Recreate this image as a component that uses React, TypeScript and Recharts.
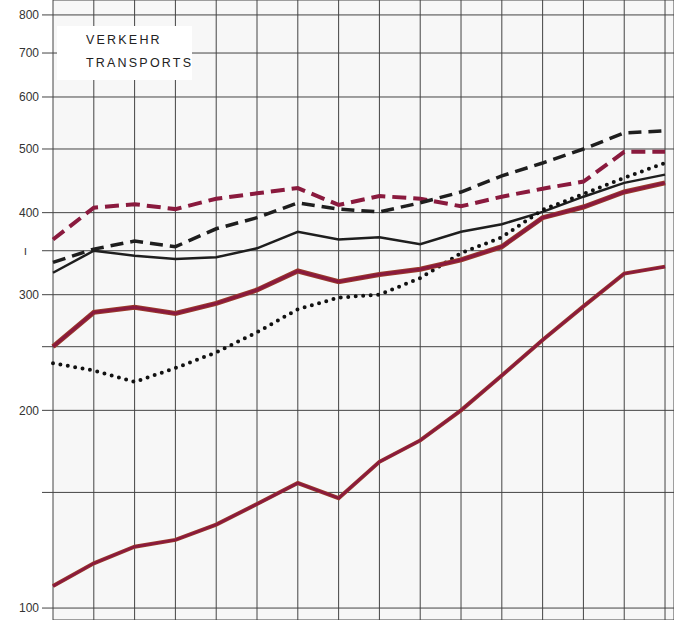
import React from "react"
import { LineChart, Line, XAxis, YAxis, CartesianGrid } from "recharts"

// index values, one point per year column (16 columns)
const years = [0, 1, 2, 3, 4, 5, 6, 7, 8, 9, 10, 11, 12, 13, 14, 15]
const redDashed = [364, 407, 412, 405, 420, 428, 436, 411, 424, 420, 409, 423, 435, 446, 495, 495]
const blackDashed = [336, 352, 362, 355, 378, 393, 414, 405, 401, 414, 430, 455, 476, 500, 529, 533]
const blackSolid = [324, 350, 344, 340, 342, 353, 374, 364, 367, 358, 374, 384, 401, 423, 444, 457]
const redThick = [250, 282, 287, 281, 291, 305, 326, 314, 322, 328, 339, 355, 393, 408, 430, 444]
const blackDotted = [236, 230, 221, 232, 245, 263, 285, 297, 300, 318, 347, 367, 404, 427, 452, 476]
const redLower = [108, 117, 124, 127, 134, 144, 155, 147, 167, 180, 200, 226, 256, 288, 323, 331]

const yTicks = [100, 150, 200, 250, 300, 350, 400, 500, 600, 700, 800]
const yLabels: Record<number, string> = {
  100: "100",
  200: "200",
  300: "300",
  350: "ı",
  400: "400",
  500: "500",
  600: "600",
  700: "700",
  800: "800",
}

const data = years.map((x, i) => ({
  x,
  redDashed: redDashed[i],
  blackDashed: blackDashed[i],
  blackSolid: blackSolid[i],
  redThick: redThick[i],
  blackDotted: blackDotted[i],
  redLower: redLower[i],
}))

const RED = "#8a1a3e"

// the 350 mark is only a stub in the original, sitting further left
const YTick = (props: any) => {
  const { x, y, payload } = props
  const label = yLabels[payload.value] ?? ""
  const shift = payload.value === 350 ? -12 : 0
  return (
    <text x={x + shift} y={y} dy="0.355em" textAnchor="end" fill="#333" fontSize={12} fontFamily="Liberation Sans, Arial, sans-serif">
      {label}
    </text>
  )
}

export default function App() {
  return (
    <div style={{ position: "relative", width: 674, height: 620, background: "#fff" }}>
      <style>{`body{margin:0}`}</style>
      <LineChart width={674} height={620} data={data} margin={{ top: 0, right: 0, bottom: 0, left: 0 }}>
        <CartesianGrid stroke="#444" strokeWidth={1} fill="#f7f7f7" />
        <XAxis dataKey="x" type="number" domain={[0, 15.22]} ticks={years} hide />
        <YAxis
          type="number"
          scale="log"
          domain={[95.9, 843]}
          allowDataOverflow
          ticks={yTicks}
          interval={0}
          width={53}
          axisLine={false}
          tickSize={11}
          tickMargin={3}
          tickLine={{ stroke: "#444" }}
          tick={YTick}
        />
        <Line dataKey="redDashed" stroke={RED} strokeWidth={4} strokeDasharray="14 7" dot={false} isAnimationActive={false} />
        <Line dataKey="blackDashed" stroke="#1e1e1e" strokeWidth={3.5} strokeDasharray="13 7" dot={false} isAnimationActive={false} />
        <Line dataKey="blackSolid" stroke="#1e1e1e" strokeWidth={2.5} dot={false} isAnimationActive={false} />
        <Line dataKey="blackDotted" stroke="#111" strokeWidth={4} strokeDasharray="0 7.5" strokeLinecap="round" dot={false} isAnimationActive={false} />
        <Line dataKey="redThick" stroke="#9a3a2a" strokeWidth={5} dot={false} isAnimationActive={false} />
        <Line dataKey="redThick" stroke={RED} strokeWidth={3} dot={false} isAnimationActive={false} />
        <Line dataKey="redLower" stroke="#9a3a2a" strokeWidth={4} dot={false} isAnimationActive={false} />
        <Line dataKey="redLower" stroke={RED} strokeWidth={2.5} dot={false} isAnimationActive={false} />
      </LineChart>
      <div
        style={{
          position: "absolute",
          left: 57,
          top: 26,
          width: 135,
          height: 54,
          background: "#fff",
          fontFamily: "Liberation Sans, Arial, sans-serif",
          fontSize: 12.5,
          letterSpacing: 2.2,
          color: "#222",
          lineHeight: "23px",
          paddingLeft: 29,
          paddingTop: 3,
          boxSizing: "border-box",
        }}
      >
        <div>VERKEHR</div>
        <div>TRANSPORTS</div>
      </div>
    </div>
  )
}
